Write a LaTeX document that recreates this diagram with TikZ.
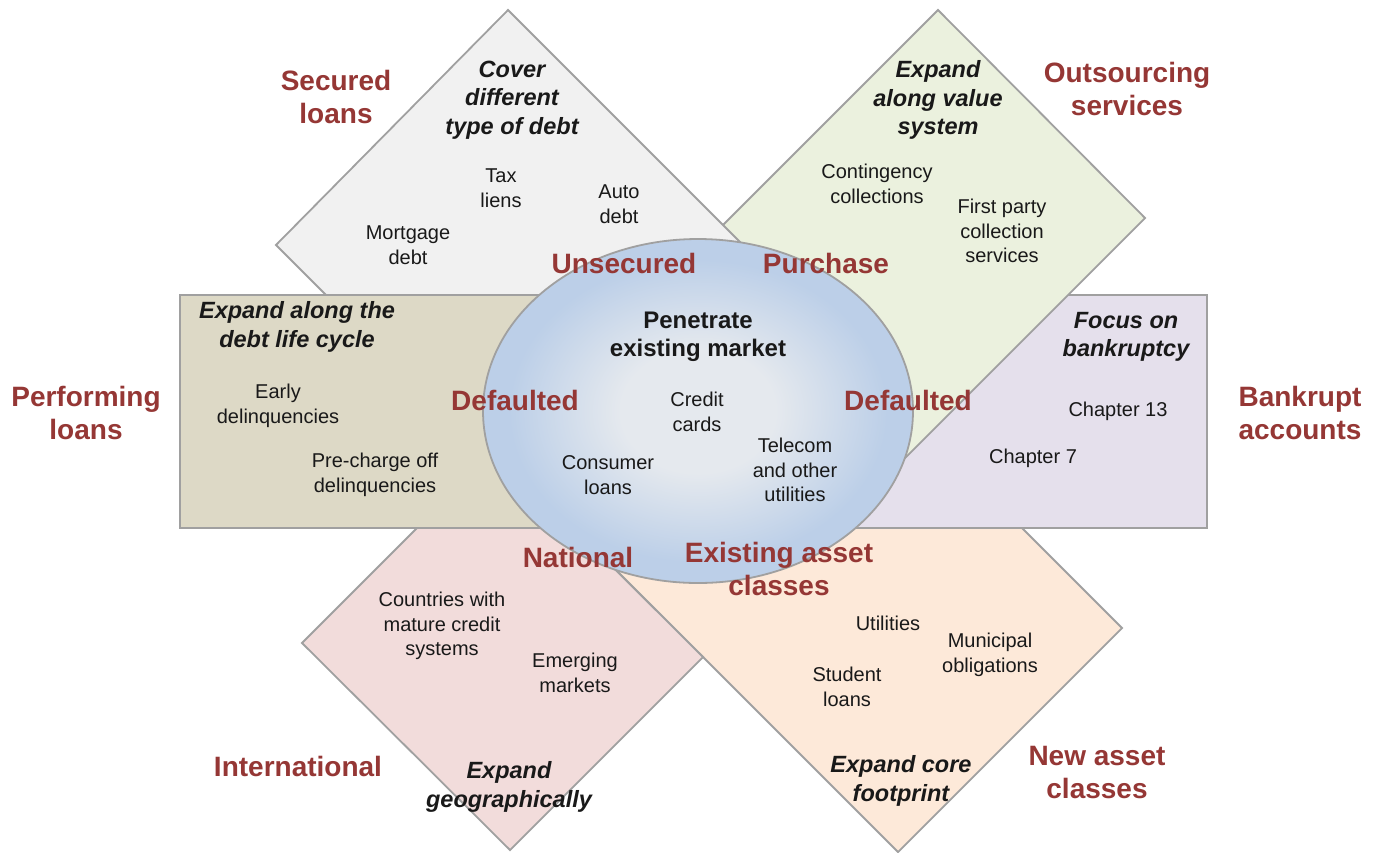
\documentclass[tikz,border=0pt]{standalone}
\usepackage{fontspec}
\setmainfont{Liberation Sans}
\usetikzlibrary{shapes.geometric}

\definecolor{edgegray}{RGB}{160,160,160}
\definecolor{petalnw}{RGB}{241,241,241}
\definecolor{petalne}{RGB}{235,241,222}
\definecolor{bandw}{RGB}{221,217,198}
\definecolor{bande}{RGB}{229,224,236}
\definecolor{petalsw}{RGB}{242,220,219}
\definecolor{petalse}{RGB}{253,233,217}
\definecolor{labelred}{RGB}{149,55,53}
\definecolor{corein}{RGB}{229,233,238}
\definecolor{coreout}{RGB}{188,207,232}
\definecolor{ink}{RGB}{25,25,25}

% soft centre fading to blue towards the rim of the core ellipse
% (the path's bounding box maps to the middle 50bp square, so the rim sits at 25bp)
\pgfdeclareradialshading{coreglow}{\pgfpoint{0bp}{0bp}}{color(0bp)=(corein); color(9bp)=(corein); color(22bp)=(coreout); color(25bp)=(coreout); color(50bp)=(coreout)}

\tikzset{
  petal/.style={draw=edgegray, line width=1.8pt, line join=miter},
  redlbl/.style={font=\fontsize{28}{33}\selectfont\bfseries, text=labelred, align=center, inner sep=0pt},
  head/.style={font=\fontsize{23.5}{28.5}\selectfont\bfseries\itshape, text=ink, align=center, inner sep=0pt},
  item/.style={font=\fontsize{20}{24.5}\selectfont, text=ink, align=center, inner sep=0pt}
}

\begin{document}
\begin{tikzpicture}[x=1pt, y=-1pt]
\useasboundingbox (0,0) rectangle (1383,852);

% petals and bands, back to front
\draw[petal, fill=petalse] (1122,628) -- (898,852) -- (591,545) -- (815,321) -- cycle;
\draw[petal, fill=petalsw] (302,643) -- (510,850) -- (703,657) -- (495,450) -- cycle;
\draw[petal, fill=bande] (800,295) rectangle (1207,528);
\draw[petal, fill=petalne] (938,10) -- (1145,218) -- (845,518) -- (638,310) -- cycle;
\draw[petal, fill=petalnw] (508,10) -- (276,245) -- (576,545) -- (808,310) -- cycle;
\draw[petal, fill=bandw] (180,295) rectangle (600,528);

% core market ellipse
\node[ellipse, draw=edgegray, line width=1.8pt, shade, shading=coreglow,
      minimum width=430pt, minimum height=344pt, inner sep=0pt] (core) at (698,411) {};

% outer direction labels
\node[redlbl] (secured) at (336,97) {Secured\\loans};
\node[redlbl] (outsourcing) at (1127,89) {Outsourcing\\services};
\node[redlbl] (performing) at (86,413) {Performing\\loans};
\node[redlbl] (bankrupt) at (1300,413) {Bankrupt\\accounts};
\node[redlbl] (international) at (298,766) {International};
\node[redlbl] (newasset) at (1097,772) {New asset\\classes};

% inner labels on the ellipse rim
\node[redlbl] (unsecured) at (624,263) {Unsecured};
\node[redlbl] (purchase) at (826,263) {Purchase};
\node[redlbl] (defaultedl) at (515,400) {Defaulted};
\node[redlbl] (defaultedr) at (908,400) {Defaulted};
\node[redlbl] (national) at (578,557) {National};
\node[redlbl] (existing) at (779,569) {Existing asset\\classes};

% strategy headings
\node[head] (cover) at (512,100) {Cover\\different\\type of debt};
\node[head] (valuesys) at (938,100) {Expand\\along value\\system};
\node[head] (lifecycle) at (297,327) {Expand along the\\debt life cycle};
\node[head] (bankruptcy) at (1126,337) {Focus on\\bankruptcy};
\node[head] (geo) at (509,787) {Expand\\geographically};
\node[head] (footprint) at (901,781) {Expand core\\footprint};
\node[font=\fontsize{24}{28.5}\selectfont\bfseries, text=ink, align=center, inner sep=0pt] (penetrate) at (698,337) {Penetrate\\existing market};

% items
\node[item] (tax) at (501,188) {Tax\\liens};
\node[item] (auto) at (619,204) {Auto\\debt};
\node[item] (mortgage) at (408,245) {Mortgage\\debt};
\node[item] (contingency) at (877,184) {Contingency\\collections};
\node[item] (firstparty) at (1002,231) {First party\\collection\\services};
\node[item] (early) at (278,406) {Early\\delinquencies};
\node[item] (precharge) at (375,475) {Pre-charge off\\delinquencies};
\node[item] (ch13) at (1118,411) {Chapter 13};
\node[item] (ch7) at (1033,458) {Chapter 7};
\node[item] (credit) at (697,412) {Credit\\cards};
\node[item] (consumer) at (608,475) {Consumer\\loans};
\node[item] (telecom) at (795,470) {Telecom\\and other\\utilities};
\node[item] (countries) at (442,626) {Countries with\\mature credit\\systems};
\node[item] (emerging) at (575,673) {Emerging\\markets};
\node[item] (utilities) at (888,623) {Utilities};
\node[item] (municipal) at (990,655) {Municipal\\obligations};
\node[item] (student) at (847,687) {Student\\loans};
\end{tikzpicture}
\end{document}
